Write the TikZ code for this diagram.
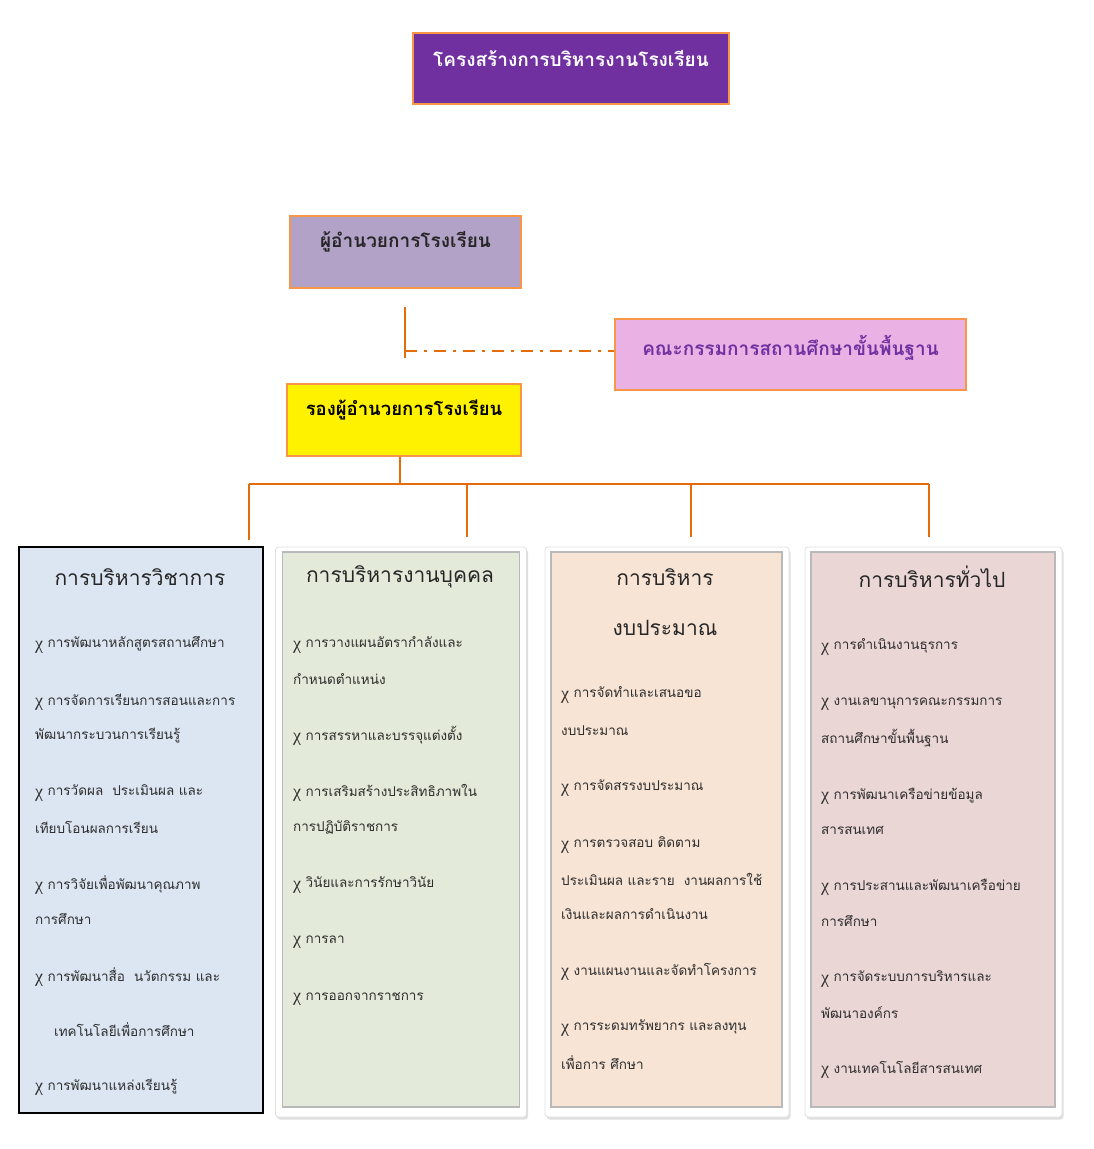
\documentclass[tikz,border=0pt]{standalone}
\usepackage{fontspec}
\setmainfont[Script=Thai]{Loma}
\newfontfamily\chifont{Liberation Serif}
\usetikzlibrary{shadows}
\definecolor{cpurple}{HTML}{7030A0}
\definecolor{cborder}{HTML}{F79646}
\definecolor{cline}{HTML}{E46C0A}
\definecolor{cdir}{HTML}{B3A2C7}
\definecolor{ccom}{HTML}{EAB2E4}
\definecolor{cone}{HTML}{DCE6F2}
\definecolor{ctwo}{HTML}{E4EAD9}
\definecolor{cthree}{HTML}{F7E4D5}
\definecolor{cfour}{HTML}{EBD6D6}
\newcommand\chib{\raisebox{-1.5pt}{\chifont\fontsize{18}{15}\selectfont χ}\ }
\tikzset{
  x=1pt, y=-1pt,
  topbox/.style={draw=cborder, line width=2.2pt, inner sep=0pt},
  conn/.style={draw=cline, line width=1.6pt},
  colframe/.style={draw=gray!25, fill=white, rounded corners=3pt, line width=0.8pt,
     drop shadow={opacity=0.25, shadow xshift=1.5pt, shadow yshift=-2.5pt}, inner sep=0pt},
  colinner/.style={draw=gray!55, line width=1.2pt, inner sep=0pt},
  head/.style={font=\fontsize{21}{24}\selectfont, text=black!85},
  item/.style={anchor=west, font=\fontsize{13.5}{15}\selectfont, text=black!82, inner sep=0pt},
}
\begin{document}
\begin{tikzpicture}
\useasboundingbox (0,0) rectangle (1094,1149);
% top boxes
\node[topbox, fill=cpurple, minimum width=316pt, minimum height=71pt] (title) at (571,68.5) {};
\node[text=white, font=\fontsize{19}{24}\selectfont\bfseries] (titletxt) at (571,58) {โครงสร้างการบริหารงานโรงเรียน};
\node[topbox, fill=cdir, minimum width=231pt, minimum height=72pt] (dir) at (405.5,252) {};
\node[text=black!85, font=\fontsize{19}{22}\selectfont\bfseries] (dirtxt) at (405.5,242) {ผู้อำนวยการโรงเรียน};
\node[topbox, fill=ccom, minimum width=351pt, minimum height=71pt] (com) at (790.5,354.5) {};
\node[text=cpurple, font=\fontsize{19}{22}\selectfont\bfseries] (comtxt) at (790.5,348) {คณะกรรมการสถานศึกษาขั้นพื้นฐาน};
\node[topbox, fill=yellow, minimum width=234pt, minimum height=72pt] (dep) at (404,420) {};
\node[text=black, font=\fontsize{18.5}{22}\selectfont\bfseries] (deptxt) at (404,410) {รองผู้อำนวยการโรงเรียน};
% committee link
\coordinate (vtop) at (405,307);
\coordinate (vbot) at (405,358);
\coordinate (vjoin) at (405,351);
\draw[conn] (vtop) -- (vbot);
\draw[conn, dash pattern=on 12pt off 7pt on 3pt off 7pt] (vjoin) -- (vjoin -| com.west);
% columns
\node[draw=black, line width=2.2pt, fill=cone, minimum width=244pt, minimum height=566pt, inner sep=0pt] (c1) at (141,830) {};
\node[colframe, minimum width=251pt, minimum height=570pt] (c2f) at (401,832) {};
\node[colinner, fill=ctwo, minimum width=237pt, minimum height=555pt] (c2) at (401,829.5) {};
\node[colframe, minimum width=244pt, minimum height=570pt] (c3f) at (667,832) {};
\node[colinner, fill=cthree, minimum width=231pt, minimum height=555pt] (c3) at (666.5,829.5) {};
\node[colframe, minimum width=257pt, minimum height=570pt] (c4f) at (933.5,832) {};
\node[colinner, fill=cfour, minimum width=244pt, minimum height=555pt] (c4) at (933,829.5) {};
% connectors from deputy
\coordinate (bar) at (400,484);
\coordinate (d1) at (249,540);
\coordinate (d2) at (467,537);
\coordinate (d3) at (691,537);
\coordinate (d4) at (929,537);
\draw[conn] (dep.south -| bar) -- (bar);
\draw[conn] (d1 |- bar) -- (d4 |- bar);
\draw[conn] (d1 |- bar) -- (d1);
\draw[conn] (d2 |- bar) -- (d2);
\draw[conn] (d3 |- bar) -- (d3);
\draw[conn] (d4 |- bar) -- (d4);
% column 1
\node[head] (h1) at (140,577) {การบริหารวิชาการ};
\node[item] (a1) at (35,645) {\chib การพัฒนาหลักสูตรสถานศึกษา};
\node[item] (a2) at (35,702) {\chib การจัดการเรียนการสอนและการ};
\node[item] (a2b) at (35,736) {พัฒนากระบวนการเรียนรู้};
\node[item] (a3) at (35,793) {\chib การวัดผล\ \ ประเมินผล และ};
\node[item] (a3b) at (35,827) {เทียบโอนผลการเรียน};
\node[item] (a4) at (35,885) {\chib การวิจัยเพื่อพัฒนาคุณภาพ};
\node[item] (a4b) at (35,919) {การศึกษา};
\node[item] (a5) at (35,977) {\chib การพัฒนาสื่อ\ \ นวัตกรรม และ};
\node[item] (a5b) at (54,1030) {เทคโนโลยีเพื่อการศึกษา};
\node[item] (a6) at (35,1087) {\chib การพัฒนาแหล่งเรียนรู้};
% column 2
\node[head] (h2) at (400,577) {การบริหารงานบุคคล};
\node[item] (b1) at (293,645) {\chib การวางแผนอัตรากำลังและ};
\node[item] (b1b) at (293,679) {กำหนดตำแหน่ง};
\node[item] (b2) at (293,736) {\chib การสรรหาและบรรจุแต่งตั้ง};
\node[item] (b3) at (293,793) {\chib การเสริมสร้างประสิทธิภาพใน};
\node[item] (b3b) at (293,827) {การปฏิบัติราชการ};
\node[item] (b4) at (293,885) {\chib วินัยและการรักษาวินัย};
\node[item] (b5) at (293,942) {\chib การลา};
\node[item] (b6) at (293,999) {\chib การออกจากราชการ};
% column 3
\node[head] (h3) at (665,577) {การบริหาร};
\node[head] (h3b) at (665,628) {งบประมาณ};
\node[item] (e1) at (561,695) {\chib การจัดทำและเสนอขอ};
\node[item] (e1b) at (561,731) {งบประมาณ};
\node[item] (e2) at (561,788) {\chib การจัดสรรงบประมาณ};
\node[item] (e3) at (561,845) {\chib การตรวจสอบ ติดตาม};
\node[item] (e3b) at (561,879) {ประเมินผล และราย\ \ งานผลการใช้};
\node[item] (e3c) at (561,914) {เงินและผลการดำเนินงาน};
\node[item] (e4) at (561,972) {\chib งานแผนงานและจัดทำโครงการ};
\node[item] (e5) at (561,1028) {\chib การระดมทรัพยากร และลงทุน};
\node[item] (e5b) at (561,1063) {เพื่อการ ศึกษา};
% column 4
\node[head] (h4) at (932,577) {การบริหารทั่วไป};
\node[item] (f1) at (821,647) {\chib การดำเนินงานธุรการ};
\node[item] (f2) at (821,704) {\chib งานเลขานุการคณะกรรมการ};
\node[item] (f2b) at (821,738) {สถานศึกษาขั้นพื้นฐาน};
\node[item] (f3) at (821,796) {\chib การพัฒนาเครือข่ายข้อมูล};
\node[item] (f3b) at (821,830) {สารสนเทศ};
\node[item] (f4) at (821,887) {\chib การประสานและพัฒนาเครือข่าย};
\node[item] (f4b) at (821,921) {การศึกษา};
\node[item] (f5) at (821,979) {\chib การจัดระบบการบริหารและ};
\node[item] (f5b) at (821,1013) {พัฒนาองค์กร};
\node[item] (f6) at (821,1070) {\chib งานเทคโนโลยีสารสนเทศ};
\end{tikzpicture}
\end{document}
